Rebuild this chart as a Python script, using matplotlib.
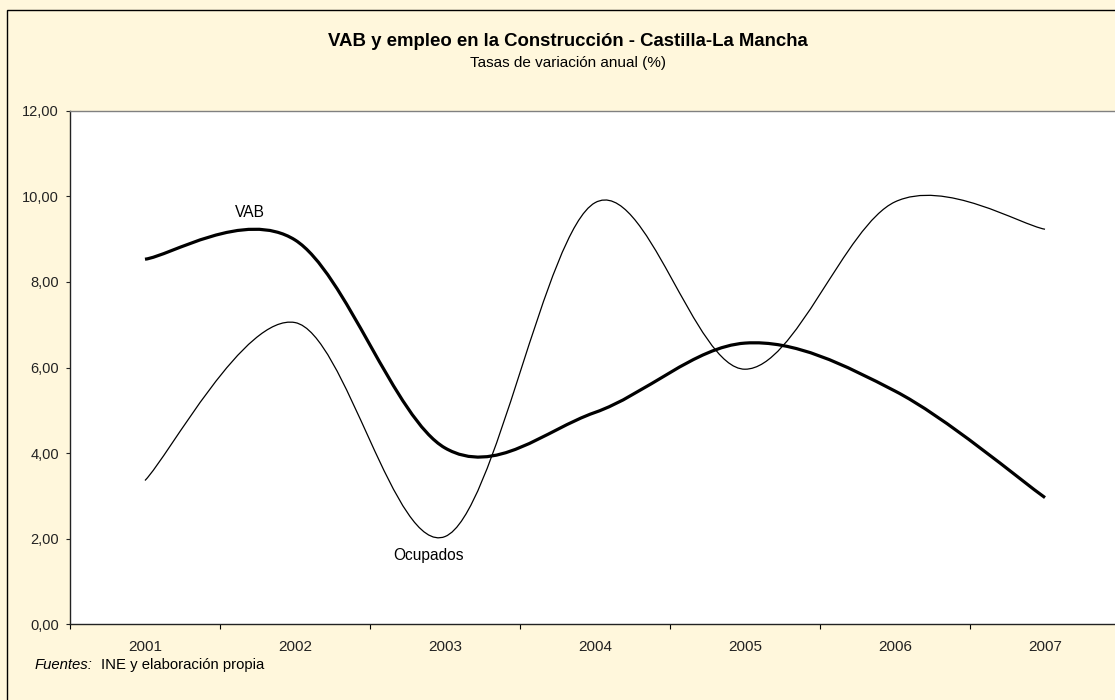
import numpy as np
import matplotlib
matplotlib.use('Agg')
import matplotlib.pyplot as plt
from matplotlib.path import Path
from matplotlib.patches import PathPatch, Rectangle
from matplotlib.ticker import FixedLocator, FuncFormatter

plt.rcParams['font.family'] = ['Liberation Sans', 'DejaVu Sans']

years = ['2001', '2002', '2003', '2004', '2005', '2006', '2007']
vab = [8.53, 8.98, 4.12, 4.95, 6.57, 5.45, 2.96]
ocupados = [3.36, 7.05, 2.05, 9.85, 5.96, 9.87, 9.23]

BG = '#FFF7DC'


def smooth_path(xs, ys):
    """Bezier path through the points, with Catmull-Rom style handles."""
    pts = np.column_stack([xs, ys]).astype(float)
    n = len(pts)
    verts = [pts[0]]
    codes = [Path.MOVETO]
    for i in range(n - 1):
        p0 = pts[i - 1] if i > 0 else pts[i]
        p1 = pts[i]
        p2 = pts[i + 1]
        p3 = pts[i + 2] if i + 2 < n else pts[i + 1]
        verts += [p1 + (p2 - p0) / 6.0, p2 - (p3 - p1) / 6.0, p2]
        codes += [Path.CURVE4] * 3
    return Path(verts, codes)


fig = plt.figure(figsize=(11.15, 7.0), dpi=100, facecolor=BG)
fig.patches.append(Rectangle((7.3 / 1115, -0.1), 1.2, (700 - 10) / 700 + 0.1,
                             transform=fig.transFigure, fill=False,
                             edgecolor='black', linewidth=1.0))

ax = fig.add_axes([70 / 1115, (700 - 624.3) / 700, 1050 / 1115, 513.6 / 700])
ax.set_facecolor('white')

x = np.arange(1, len(years) + 1)
ax.add_patch(PathPatch(smooth_path(x, vab), fill=False, edgecolor='black',
                       linewidth=2.3, capstyle='butt', joinstyle='round'))
ax.add_patch(PathPatch(smooth_path(x, ocupados), fill=False,
                       edgecolor='black', linewidth=0.9))

ax.set_xlim(0.5, len(years) + 0.5)
ax.set_ylim(0, 12)

ax.yaxis.set_major_locator(FixedLocator(np.arange(0, 13, 2)))
ax.yaxis.set_major_formatter(FuncFormatter(lambda v, p: f'{v:.2f}'.replace('.', ',')))
ax.xaxis.set_major_locator(FixedLocator(np.arange(0.5, len(years) + 1)))
ax.xaxis.set_major_formatter(FuncFormatter(lambda v, p: ''))
ax.xaxis.set_minor_locator(FixedLocator(x))
ax.xaxis.set_minor_formatter(FuncFormatter(lambda v, p: years[int(round(v)) - 1]))

ax.tick_params(axis='y', direction='out', length=3, width=0.8, pad=5,
               labelsize=10.5, colors='#222222')
ax.tick_params(axis='x', which='major', direction='out', length=3.5, width=0.8)
ax.tick_params(axis='x', which='minor', length=0, pad=11.5, labelsize=11,
               labelcolor='#222222')

for side in ['left', 'bottom']:
    ax.spines[side].set_color('#222222')
    ax.spines[side].set_linewidth(1.0)
for side in ['top', 'right']:
    ax.spines[side].set_color('#808080')
    ax.spines[side].set_linewidth(1.0)

ax.text(1.7, 9.61, 'VAB', ha='center', va='center', fontsize=11.2)
ax.text(2.89, 1.6, 'Ocupados', ha='center', va='center', fontsize=11.2)

fig.text(568 / 1115, 1 - 42 / 700,
         'VAB y empleo en la Construcción - Castilla-La Mancha',
         ha='center', va='center', fontsize=13.4, fontweight='bold')
fig.text(568 / 1115, 1 - 63 / 700, 'Tasas de variación anual (%)',
         ha='center', va='center', fontsize=11)

fig.text(35 / 1115, 1 - 665 / 700, 'Fuentes:', ha='left', va='center',
         fontsize=10.7, fontstyle='italic')
fig.text(101 / 1115, 1 - 665 / 700, 'INE y elaboración propia', ha='left',
         va='center', fontsize=10.7)

fig.savefig('out.png', dpi=100, facecolor=BG)
